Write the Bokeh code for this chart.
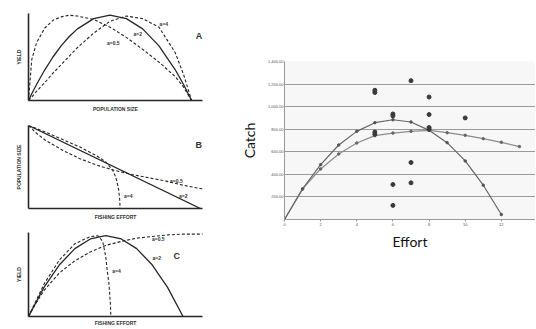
from bokeh.plotting import figure
from bokeh.models import FixedTicker, Range1d, Span
from bokeh.layouts import row, column
from bokeh.core.properties import value
from bokeh.embed import file_html
from bokeh.resources import INLINE

# ---------------- Panel A: yield vs population size ----------------
pop_a = [0, 0.02, 0.05, 0.1, 0.15, 0.2, 0.25, 0.3, 0.4, 0.5, 0.6, 0.7, 0.8, 0.9, 0.95, 1.0]
yield_a_05 = [0, 0.48, 0.68, 0.85, 0.94, 0.98, 1.0, 0.99, 0.95, 0.86, 0.74, 0.60, 0.45, 0.28, 0.16, 0]
yield_a_2 = [0, 0.08, 0.19, 0.36, 0.51, 0.64, 0.75, 0.84, 0.96, 1.0, 0.96, 0.84, 0.64, 0.36, 0.19, 0]
yield_a_4 = [0, 0.04, 0.11, 0.21, 0.32, 0.42, 0.52, 0.62, 0.79, 0.93, 0.99, 0.96, 0.86, 0.56, 0.31, 0]

# ---------------- Panel B: population size vs fishing effort ----------------
eff_b2 = [0, 1.0]
pop_b2 = [1.0, 0]
eff_b05 = [0, 0.05, 0.1, 0.2, 0.3, 0.4, 0.5, 0.6, 0.7, 0.8, 0.9, 1.0, 1.012]
pop_b05 = [1.0, 0.9, 0.82, 0.70, 0.60, 0.52, 0.46, 0.41, 0.37, 0.33, 0.28, 0.24, 0.235]
eff_b4 = [0, 0.1, 0.2, 0.3, 0.4, 0.45, 0.47, 0.49, 0.505, 0.515, 0.524, 0.53, 0.533]
pop_b4 = [1.0, 0.92, 0.83, 0.74, 0.63, 0.56, 0.51, 0.46, 0.39, 0.32, 0.23, 0.12, 0]

# ---------------- Panel C: yield vs fishing effort ----------------
eff_c2 = [0, 0.1, 0.2, 0.3, 0.4, 0.5, 0.6, 0.7, 0.8, 0.9, 1.0]
yield_c2 = [0, 0.36, 0.64, 0.84, 0.96, 1.0, 0.96, 0.84, 0.64, 0.36, 0]
eff_c4 = [0, 0.1, 0.2, 0.3, 0.4, 0.45, 0.48, 0.5, 0.51, 0.52, 0.53, 0.533]
yield_c4 = [0, 0.40, 0.70, 0.90, 0.99, 1.0, 0.93, 0.74, 0.56, 0.42, 0.15, 0]
eff_c05 = [0, 0.05, 0.1, 0.2, 0.3, 0.4, 0.5, 0.6, 0.7, 0.8, 0.9, 1.0, 1.1, 1.13]
yield_c05 = [0, 0.17, 0.32, 0.54, 0.69, 0.80, 0.88, 0.93, 0.97, 0.99, 1.01, 1.02, 1.02, 1.02]

# ---------------- Right chart: catch vs effort ----------------
effort_schaefer = [0, 1, 2, 3, 4, 5, 6, 7, 8, 9, 10, 11, 12]
catch_schaefer = [0, 271, 486, 660, 781, 858, 884, 864, 790, 681, 519, 304, 44]
effort_fox = [0, 1, 2, 3, 4, 5, 6, 7, 8, 9, 10, 11, 12, 13]
catch_fox = [0, 271, 448, 581, 678, 743, 766, 781, 790, 769, 746, 716, 684, 646]
obs_effort = [5, 5, 7, 8, 6, 6, 8, 10, 8, 8, 5, 5, 7, 6, 7, 6]
obs_catch = [1145, 1125, 1230, 1085, 935, 918, 930, 900, 815, 800, 775, 755, 505, 310, 325, 125]
y_tick_vals = [0, 200, 400, 600, 800, 1000, 1200, 1400]
y_tick_labels = ["-", "200.00", "400.00", "600.00", "800.00", "1,000.00", "1,200.00", "1,400.00"]
x_tick_vals = [0, 2, 4, 6, 8, 10, 12, 14]

INK = "#262626"
LABEL_FONT = value("Liberation Sans")


def left_panel(width, height, x_end, y_end, bl, br, bt, bb, xlabel, ylabel):
    p = figure(width=width, height=height, x_range=Range1d(0, x_end), y_range=Range1d(0, y_end),
               output_backend="svg", toolbar_location=None,
               min_border_left=bl, min_border_right=br, min_border_top=bt, min_border_bottom=bb)
    p.grid.visible = False
    p.outline_line_color = None
    for ax in p.axis:
        ax.ticker = FixedTicker(ticks=[])
        ax.major_tick_out = 0
        ax.major_tick_in = 0
        ax.minor_tick_out = 0
        ax.minor_tick_in = 0
        ax.major_label_text_font_size = "0px"
        ax.major_label_standoff = 0
        ax.axis_line_color = INK
        ax.axis_line_width = 1.6
        ax.axis_label_text_font_size = "5px"
        ax.axis_label_text_font_style = "bold"
        ax.axis_label_text_color = "#333333"
        ax.axis_label_text_font = "Liberation Sans"
    if xlabel:
        p.xaxis.axis_label = xlabel
        p.xaxis.axis_label_standoff = 5
    if ylabel:
        p.yaxis.axis_label = ylabel
        p.yaxis.axis_label_standoff = 7
    return p


def note(p, x, y, txt, size="5px", align="center"):
    p.text(x=[x], y=[y], text=[txt], text_font=LABEL_FONT, text_font_size=size,
           text_font_style="bold", text_color="#333333", text_align=align, text_baseline="middle")


# Slide border strip (dashed line along the top)
strip = figure(width=535, height=6, x_range=Range1d(0, 1), y_range=Range1d(0, 1),
               output_backend="svg", toolbar_location=None,
               min_border_left=0, min_border_right=0, min_border_top=0, min_border_bottom=0)
strip.xaxis.visible = False
strip.yaxis.visible = False
strip.grid.visible = False
strip.outline_line_color = None
strip.add_layout(Span(location=0.45, dimension="width", line_color="#9dbbe0",
                      line_dash="3 2", line_width=1.2))

# Panel A
pa = left_panel(223, 109, 1.067, 1.02, 28, 20, 7, 15, "POPULATION SIZE", "YIELD")
pa.line(pop_a, yield_a_05, line_color=INK, line_width=1.1, line_dash="3 2")
pa.line(pop_a, yield_a_2, line_color=INK, line_width=1.3)
pa.line(pop_a, yield_a_4, line_color=INK, line_width=1.1, line_dash="3 2")
note(pa, 0.83, 0.90, "a=4")
note(pa, 0.67, 0.78, "a=2")
note(pa, 0.52, 0.67, "a=0.5")
note(pa, 1.045, 0.76, "A", size="9px")

# Panel B
pb = left_panel(223, 107, 1.012, 1.0, 25, 21, 10, 13, "FISHING EFFORT", "POPULATION SIZE")
pb.line(eff_b2, pop_b2, line_color=INK, line_width=1.3)
pb.line(eff_b05, pop_b05, line_color=INK, line_width=1.1, line_dash="3 2")
pb.line(eff_b4, pop_b4, line_color=INK, line_width=1.1, line_dash="3 2")
note(pb, 0.86, 0.33, "a=0.5")
note(pb, 0.90, 0.15, "a=2")
note(pb, 0.58, 0.15, "a=4")
note(pb, 0.99, 0.76, "B", size="9px")

# Panel C
pc = left_panel(223, 106, 1.126, 1.04, 25, 1, 10, 11, "FISHING EFFORT", "YIELD")
pc.xaxis.axis_label_standoff = 3
pc.line(eff_c2, yield_c2, line_color=INK, line_width=1.3)
pc.line(eff_c4, yield_c4, line_color=INK, line_width=1.1, line_dash="3 2")
pc.line(eff_c05, yield_c05, line_color=INK, line_width=1.1, line_dash="3 2")
note(pc, 0.84, 0.955, "a=0.5")
note(pc, 0.83, 0.73, "a=2")
note(pc, 0.57, 0.56, "a=4")
note(pc, 0.96, 0.75, "C", size="9px")

# Right chart
pr = figure(width=312, height=259, x_range=Range1d(0, 13.89), y_range=Range1d(0, 1400),
            output_backend="svg", toolbar_location=None,
            min_border_left=61, min_border_right=0, min_border_top=55, min_border_bottom=46)
pr.background_fill_color = "#f7f7f7"
pr.outline_line_color = None
pr.xgrid.visible = False
pr.ygrid.ticker = FixedTicker(ticks=y_tick_vals)
pr.ygrid.grid_line_color = "#9a9a9a"
pr.ygrid.grid_line_width = 1
pr.yaxis.ticker = FixedTicker(ticks=y_tick_vals)
pr.yaxis.major_label_overrides = dict(zip(y_tick_vals, y_tick_labels))
pr.xaxis.ticker = FixedTicker(ticks=x_tick_vals)
for ax in pr.axis:
    ax.axis_line_color = "#999999"
    ax.major_tick_line_color = "#999999"
    ax.minor_tick_line_color = None
    ax.major_tick_in = 0
    ax.major_tick_out = 2
    ax.major_label_text_font_size = "4px"
    ax.major_label_text_color = "#555555"
    ax.major_label_standoff = 1
    ax.axis_label_text_font = "Lato"
    ax.axis_label_text_font_size = "14px"
    ax.axis_label_text_font_style = "normal"
    ax.axis_label_text_color = "#111111"
pr.yaxis.major_tick_out = 0
pr.yaxis.axis_label = "Catch"
pr.yaxis.axis_label_standoff = 7
pr.xaxis.axis_label = "Effort"
pr.xaxis.axis_label_standoff = 4

pr.line(effort_fox, catch_fox, line_color="#8c8c8c", line_width=1.2)
pr.scatter(effort_fox, catch_fox, size=2.5, color="#666666")
pr.line(effort_schaefer, catch_schaefer, line_color="#666666", line_width=1.2)
pr.scatter(effort_schaefer, catch_schaefer, size=2.5, color="#555555")
pr.scatter(obs_effort, obs_catch, size=4, color="#3a3a3a")

layout = column(strip, row(column(pa, pb, pc), pr))
open("out.html", "w").write(file_html(layout, INLINE))
